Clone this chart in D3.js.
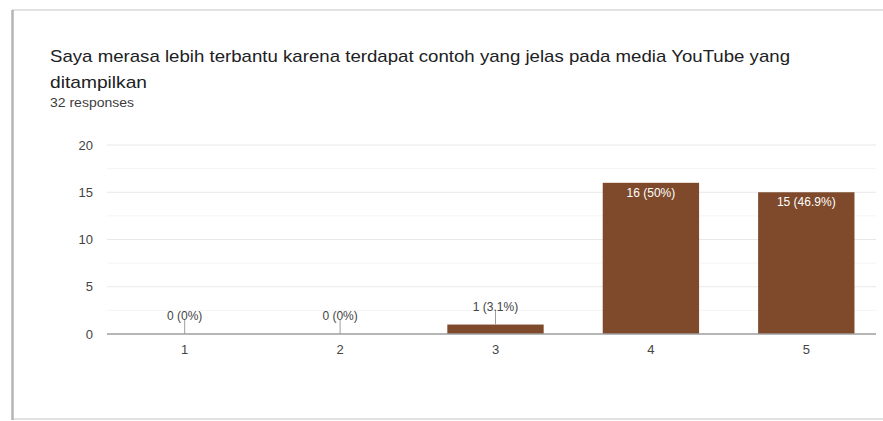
<!DOCTYPE html>
<html>
<head>
<meta charset="utf-8">
<script src="https://cdn.jsdelivr.net/npm/d3@7"></script>
<style>
  html, body { margin: 0; padding: 0; background: #fff; overflow: hidden; }
  body { font-family: "Liberation Sans", Arial, sans-serif; }
  svg { display: block; }
</style>
</head>
<body>
<script>
// data
var categories = ["1", "2", "3", "4", "5"];
var counts = [0, 0, 1, 16, 15];
var labels = ["0 (0%)", "0 (0%)", "1 (3.1%)", "16 (50%)", "15 (46.9%)"];
var yTicks = [0, 5, 10, 15, 20];
var titleLines = ["Saya merasa lebih terbantu karena terdapat contoh yang jelas pada media YouTube yang", "ditampilkan"];
var subtitle = "32 responses";

var width = 883, height = 421;
var font = "'Liberation Sans', Arial, sans-serif";

var svg = d3.select("body").append("svg")
    .attr("width", width)
    .attr("height", height)
    .attr("font-family", font);

// card outline: top and bottom edges plus a darker left shadow
svg.selectAll("line.edge").data([10, 419]).enter().append("line")
    .attr("class", "edge")
    .attr("x1", 12).attr("x2", width)
    .attr("y1", function(d) { return d; })
    .attr("y2", function(d) { return d; })
    .attr("stroke", "#d9d9d9")
    .attr("stroke-width", 1.5);
svg.append("line")
    .attr("x1", 12.5).attr("x2", 12.5)
    .attr("y1", 10).attr("y2", 420)
    .attr("stroke", "#b5b5b5")
    .attr("stroke-width", 2.5);

svg.selectAll("text.title").data(titleLines).enter().append("text")
    .attr("class", "title")
    .attr("x", 50)
    .attr("y", function(d, i) { return 62 + i * 26; })
    .attr("font-size", 17)
    .attr("fill", "#202124")
    .attr("textLength", function(d, i) { return i === 0 ? 740 : 97; })
    .attr("lengthAdjust", "spacingAndGlyphs")
    .text(function(d) { return d; });

svg.append("text")
    .attr("x", 50).attr("y", 107)
    .attr("font-size", 12)
    .attr("fill", "#3c3c3c")
    .attr("textLength", 84)
    .attr("lengthAdjust", "spacingAndGlyphs")
    .text(subtitle);

var x = d3.scaleBand()
    .domain(categories)
    .range([107, 884])
    .paddingInner(0.38)
    .paddingOuter(0.19);

var y = d3.scaleLinear()
    .domain([0, 20])
    .range([334, 145]);

// minor gridlines
svg.selectAll("line.minor").data(d3.range(2.5, 20, 5)).enter().append("line")
    .attr("class", "minor")
    .attr("x1", 107).attr("x2", 876)
    .attr("y1", function(d) { return y(d); })
    .attr("y2", function(d) { return y(d); })
    .attr("stroke", "#f4f4f4");

// major gridlines
svg.selectAll("line.grid").data(yTicks.slice(1)).enter().append("line")
    .attr("class", "grid")
    .attr("x1", 107).attr("x2", 876)
    .attr("y1", function(d) { return y(d); })
    .attr("y2", function(d) { return y(d); })
    .attr("stroke", "#e8e8e8");

var yAxis = svg.append("g")
    .attr("transform", "translate(107,0)")
    .call(d3.axisLeft(y).tickValues(yTicks).tickSize(0).tickPadding(14));
yAxis.select(".domain").remove();
yAxis.selectAll("text")
    .attr("font-size", 13)
    .attr("font-family", font)
    .attr("fill", "#444");

svg.selectAll("rect.bar").data(counts).enter().append("rect")
    .attr("class", "bar")
    .attr("x", function(d, i) { return x(categories[i]); })
    .attr("y", function(d) { return y(d); })
    .attr("width", x.bandwidth())
    .attr("height", function(d) { return y(0) - y(d); })
    .attr("fill", "#7e4a2b");

// baseline
svg.append("line")
    .attr("x1", 107).attr("x2", 876)
    .attr("y1", y(0)).attr("y2", y(0))
    .attr("stroke", "#9e9e9e")
    .attr("stroke-width", 1.5);

var xAxis = svg.append("g")
    .attr("transform", "translate(0," + y(0) + ")")
    .call(d3.axisBottom(x).tickSize(0).tickPadding(11));
xAxis.select(".domain").remove();
xAxis.selectAll("text")
    .attr("font-size", 13)
    .attr("font-family", font)
    .attr("fill", "#444");

// value labels
function inside(d) { return y(0) - y(d) > 20; }

svg.selectAll("line.lead").data(counts).enter().append("line")
    .attr("class", "lead")
    .attr("visibility", function(d) { return inside(d) ? "hidden" : "visible"; })
    .attr("x1", function(d, i) { return x(categories[i]) + x.bandwidth() / 2; })
    .attr("x2", function(d, i) { return x(categories[i]) + x.bandwidth() / 2; })
    .attr("y1", function(d) { return y(d) - 14; })
    .attr("y2", function(d) { return y(d); })
    .attr("stroke", "#9e9e9e");

svg.selectAll("text.val").data(counts).enter().append("text")
    .attr("class", "val")
    .attr("text-anchor", "middle")
    .attr("font-size", 12)
    .attr("x", function(d, i) { return x(categories[i]) + x.bandwidth() / 2; })
    .attr("y", function(d) { return inside(d) ? y(d) + 14 : y(d) - 14; })
    .attr("fill", function(d) { return inside(d) ? "#fff" : "#444"; })
    .text(function(d, i) { return labels[i]; });
</script>
</body>
</html>
